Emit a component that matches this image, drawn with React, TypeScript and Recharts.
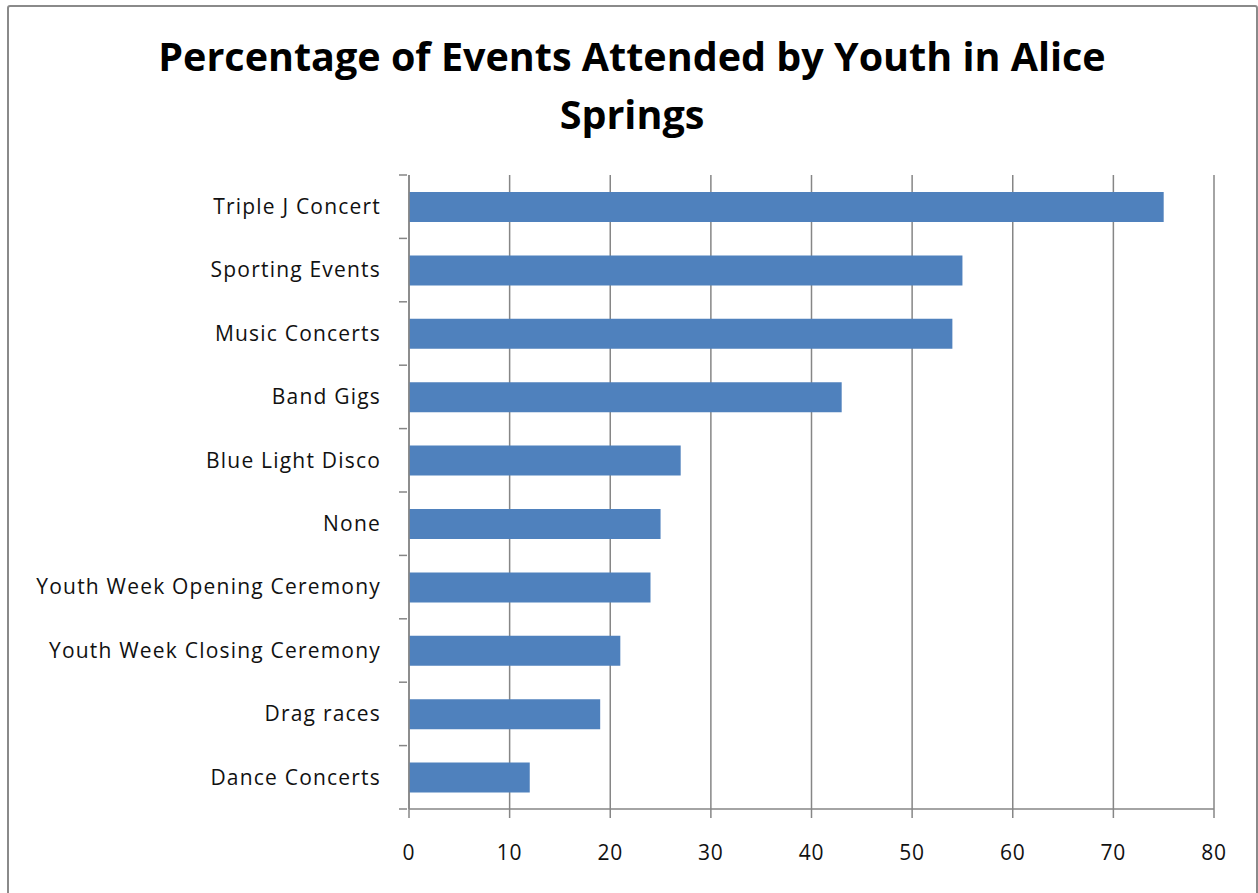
import { BarChart, Bar, XAxis, YAxis, CartesianGrid } from "recharts";

const events = [
  "Triple J Concert",
  "Sporting Events",
  "Music Concerts",
  "Band Gigs",
  "Blue Light Disco",
  "None",
  "Youth Week Opening Ceremony",
  "Youth Week Closing Ceremony",
  "Drag races",
  "Dance Concerts",
];
const percentages = [75, 55, 54, 43, 27, 25, 24, 21, 19, 12];
const xTicks = [0, 10, 20, 30, 40, 50, 60, 70, 80];

const data = events.map((name, i) => ({ name, value: percentages[i] }));

const AXIS = "#868686";
const FONT = "'Open Sans', Lato, sans-serif";
const BAND = 634 / events.length;

function CategoryTick(props: any) {
  const { x, y, payload, index } = props;
  const axisX = x + 8;
  return (
    <g>
      <line x1={axisX - 8} x2={axisX} y1={y - BAND / 2} y2={y - BAND / 2} stroke={AXIS} strokeWidth={1.5} />
      {index === events.length - 1 && (
        <line x1={axisX - 8} x2={axisX} y1={y + BAND / 2} y2={y + BAND / 2} stroke={AXIS} strokeWidth={1.5} />
      )}
      <text
        x={x - 18}
        y={y}
        dy="0.35em"
        textAnchor="end"
        fill="#111"
        fontSize={21}
        letterSpacing={1.2}
        fontFamily={FONT}
      >
        {payload.value}
      </text>
    </g>
  );
}

export default function App() {
  return (
    <div style={{ position: "absolute", left: 0, top: 0, width: 1258, height: 893, background: "#fff", overflow: "hidden" }}>
      <div
        style={{
          position: "absolute",
          left: 7,
          top: 5,
          width: 1247,
          height: 900,
          border: "2px solid #8a8a8a",
          borderRadius: 3,
        }}
      />
      <div
        style={{
          position: "absolute",
          left: 0,
          top: 27,
          width: 1264,
          textAlign: "center",
          fontFamily: FONT,
          fontWeight: 700,
          fontSize: 39.5,
          lineHeight: "58px",
          color: "#000",
        }}
      >
        Percentage of Events Attended by Youth in Alice
        <br />
        Springs
      </div>
      <div style={{ position: "absolute", left: 0, top: 0 }}>
        <BarChart
          width={1258}
          height={893}
          data={data}
          layout="vertical"
          margin={{ top: 175, right: 44, bottom: 34, left: 0 }}
          barSize={30}
        >
          <CartesianGrid horizontal={false} stroke={AXIS} strokeWidth={1.5} />
          <XAxis
            type="number"
            domain={[0, 80]}
            ticks={xTicks}
            interval={0}
            stroke={AXIS}
            strokeWidth={1.5}
            tickSize={9}
            tickMargin={27}
            height={50}
            tick={{ fill: "#111", fontSize: 21, fontFamily: FONT, letterSpacing: 0.8 }}
          />
          <YAxis
            type="category"
            dataKey="name"
            width={409}
            stroke={AXIS}
            strokeWidth={1.5}
            tickLine={false}
            tickSize={8}
            interval={0}
            tick={<CategoryTick />}
          />
          <Bar dataKey="value" fill="#4F81BD" isAnimationActive={false} />
        </BarChart>
      </div>
    </div>
  );
}
